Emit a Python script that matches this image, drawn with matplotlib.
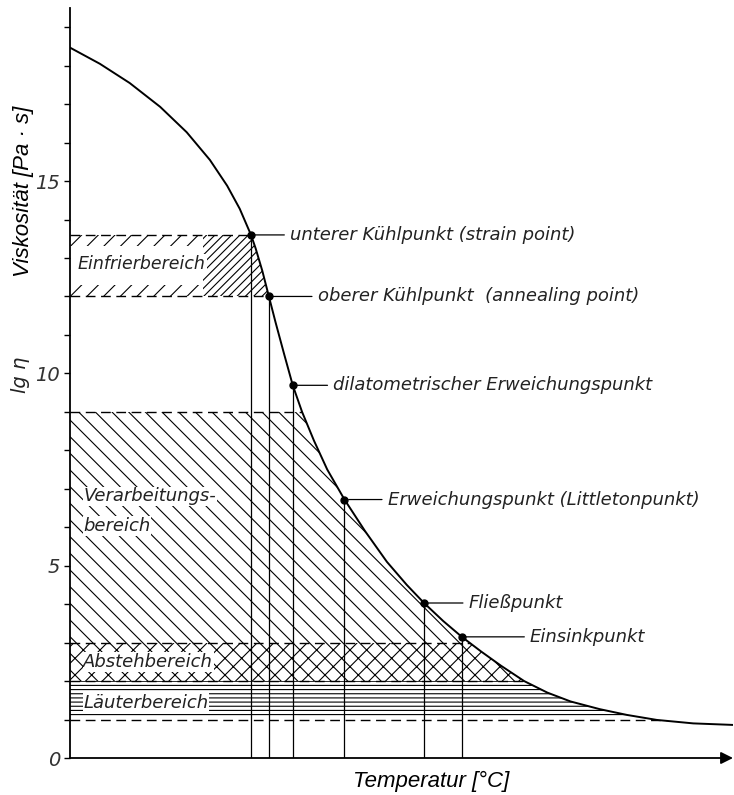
import numpy as np
import matplotlib
matplotlib.use("Agg")
import matplotlib.pyplot as plt
from matplotlib.patches import Polygon, Rectangle

# Viskositaetskurve (lg eta) gegen Temperatur, x ohne Skala (0..100)
curve_x = [0, 4.5, 9.0, 13.6, 17.6, 21.1, 23.7, 25.6, 27.3, 28.0, 29.0, 30.0,
           31.0, 32.3, 33.6, 35.0, 36.8, 38.8, 41.4, 44.5, 47.8, 50.8, 53.4,
           56.3, 59.1, 62.0, 65.0, 68.5, 72.0, 75.5, 79.9, 84.0, 88.5, 94.0,
           100]
curve_y = [18.47, 18.05, 17.55, 16.93, 16.27, 15.55, 14.88, 14.28, 13.6, 13.25,
           12.67, 12.0, 11.33, 10.5, 9.69, 9.0, 8.25, 7.5, 6.72, 5.9, 5.1,
           4.5, 4.03, 3.56, 3.15, 2.77, 2.4, 2.0, 1.7, 1.47, 1.27, 1.12, 0.99,
           0.9, 0.86]

# Fixpunkte
point_x = [27.3, 30.0, 33.6, 41.4, 53.4, 59.1]
point_y = [13.6, 12.0, 9.69, 6.72, 4.03, 3.15]
point_labels = ["unterer Kühlpunkt (strain point)",
                "oberer Kühlpunkt  (annealing point)",
                "dilatometrischer Erweichungspunkt",
                "Erweichungspunkt (Littletonpunkt)",
                "Fließpunkt",
                "Einsinkpunkt"]
leader_len = [28, 35, 29, 31, 32, 49]   # points

# Bereiche (lg eta von, bis)
einfrier = (12.0, 13.6)
verarbeitung = (3.0, 9.0)
absteh = (2.0, 3.0)
laeuter = (1.1, 2.0)
dashed_levels = [13.6, 12.0, 9.0, 3.0, 2.0, 1.0]

yticks = [0, 5, 10, 15]

tech = dict(family="DejaVu Sans", style="oblique", color="#222222")
plt.rcParams["hatch.linewidth"] = 0.8

fig = plt.figure(figsize=(7.34, 7.95), dpi=100)
ax = fig.add_axes([70 / 734, 37 / 795, 663 / 734, 750 / 795])
ax.set_xlim(0, 100)
ax.set_ylim(0, 19.5)

# Flaeche unter der Kurve als Clip-Pfad
area = Polygon(list(zip([0] + curve_x + [100], [0] + curve_y + [0])),
               closed=True, transform=ax.transData, fill=False, lw=0)
ax.add_patch(area)
area.set_visible(False)

def band(x0, x1, lo, hi, hatch):
    r = Rectangle((x0, lo), x1 - x0, hi - lo, fill=False, hatch=hatch,
                  lw=0, edgecolor="black")
    ax.add_patch(r)
    r.set_clip_path(area)

band(20, 100, einfrier[0], einfrier[1], "////")
band(0, 20, einfrier[1] - 0.3, einfrier[1], "//")
band(0, 20, einfrier[0], einfrier[0] + 0.3, "//")
band(0, 100, verarbeitung[0], verarbeitung[1], "\\\\")
band(0, 100, absteh[0], absteh[1], "xx")
band(0, 100, laeuter[0], laeuter[1], "----")

for lev in dashed_levels:
    ln, = ax.plot([0, 100], [lev, lev], color="black", lw=1.0,
                  dashes=(7, 4))
    ln.set_clip_path(area)

# Kurve
ax.plot(curve_x, curve_y, color="black", lw=1.4, zorder=4)

# Lote und Punkte
ax.vlines(point_x, 0, point_y, color="black", lw=0.9, zorder=3)
ax.plot(point_x, point_y, "o", color="black", ms=5, zorder=5)

for px, py, lab, dx in zip(point_x, point_y, point_labels, leader_len):
    ax.annotate(lab, xy=(px, py), xytext=(dx, 0), textcoords="offset points",
                ha="left", va="center", fontsize=13, **tech,
                arrowprops=dict(arrowstyle="-", lw=0.9, color="black",
                                shrinkA=2, shrinkB=3))

# Bereichsbeschriftungen
box = dict(facecolor="white", edgecolor="none", pad=0.5)
ax.text(1.2, 12.85, "Einfrierbereich", fontsize=12.5, va="center",
        bbox=box, **tech)
ax.text(2.0, 6.8, "Verarbeitungs-", fontsize=13, va="center", bbox=box, **tech)
ax.text(2.0, 6.03, "bereich", fontsize=13, va="center", bbox=box, **tech)
ax.text(2.0, 2.5, "Abstehbereich", fontsize=13, va="center", bbox=box, **tech)
ax.text(2.0, 1.44, "Läuterbereich", fontsize=13, va="center", bbox=box, **tech)

# Achsen
for s in ["top", "right", "bottom"]:
    ax.spines[s].set_visible(False)
ax.spines["left"].set_linewidth(1.3)
ax.annotate("", xy=(100, 0), xytext=(0, 0), xycoords="data",
            arrowprops=dict(arrowstyle="-|>", lw=1.3, color="black",
                            mutation_scale=18, shrinkA=0, shrinkB=0),
            annotation_clip=False)
ax.set_xticks([])
ax.set_yticks(yticks)
ax.set_yticks(range(1, 20), minor=True)
ax.tick_params(axis="y", which="both", direction="out", length=4, width=1,
               pad=3)
for t in ax.get_yticklabels():
    t.set_fontfamily("DejaVu Sans")
    t.set_fontstyle("oblique")
    t.set_fontsize(14)
    t.set_color("#333333")

fig.text(24 / 734, 1 - 191 / 795, "Viskosität [Pa · s]", rotation=90,
         family="Liberation Sans", style="italic", fontsize=16,
         ha="center", va="center")
fig.text(20 / 734, 1 - 375 / 795, "lg η", rotation=90, fontsize=14,
         ha="center", va="center", **tech)
fig.text(431 / 734, 1 - 781 / 795, "Temperatur [°C]",
         family="Liberation Sans", style="italic", fontsize=16,
         ha="center", va="center")

fig.savefig("out.png", dpi=100)
